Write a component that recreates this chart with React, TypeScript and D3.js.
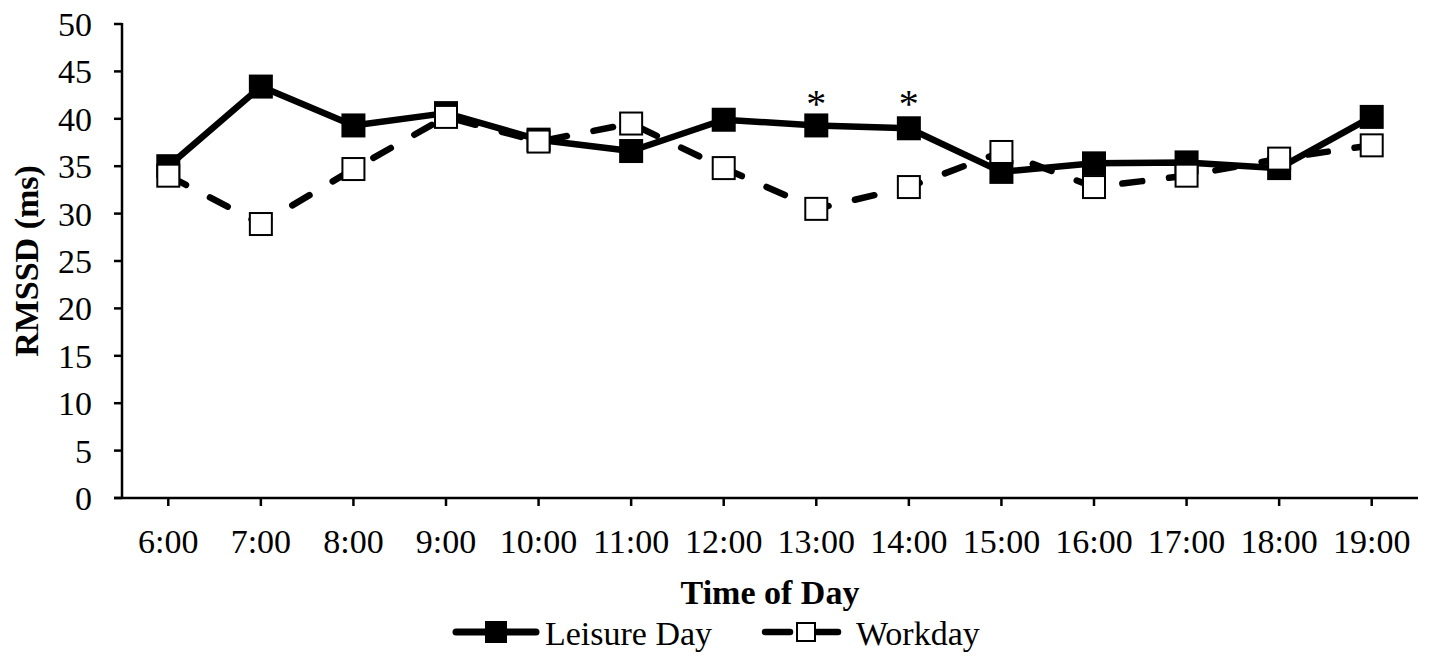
import React from "react";
import * as d3 from "d3";

const categories = ["6:00","7:00","8:00","9:00","10:00","11:00","12:00","13:00","14:00","15:00","16:00","17:00","18:00","19:00"];
const leisure = [35.0, 43.4, 39.3, 40.6, 37.8, 36.6, 39.9, 39.3, 39.0, 34.4, 35.3, 35.4, 34.8, 40.2];
const workday = [34.0, 28.9, 34.7, 40.2, 37.6, 39.5, 34.8, 30.5, 32.8, 36.5, 32.8, 34.0, 35.8, 37.2];
const significant = ["13:00", "14:00"];
const yTicks = [0, 5, 10, 15, 20, 25, 30, 35, 40, 45, 50];
const seriesNames = ["Leisure Day", "Workday"];

const W = 1430, H = 658;
const left = 122, right = 1418, top = 24, bottom = 498;
const FONT = "'Liberation Serif', 'Times New Roman', serif";

export default function App() {
  const x = d3.scaleBand<string>().domain(categories).range([left, right]).padding(0);
  const cx = (c: string) => (x(c) as number) + x.bandwidth() / 2;
  const y = d3.scaleLinear().domain([0, 50]).range([bottom, top]);
  const line = d3.line<number>().x((_, i) => cx(categories[i])).y((d) => y(d));
  const ms = 24;
  const lw = 6.5;
  const ly = 632;

  return (
    <svg width={W} height={H} style={{ position: "absolute", left: 0, top: 0, background: "#fff" }} fontFamily={FONT}>
      <rect x={0} y={0} width={W} height={H} fill="#fff" />
      {/* axes */}
      <line x1={left} x2={left} y1={top - 1} y2={bottom + 1} stroke="#000" strokeWidth={2.5} />
      <line x1={left - 8} x2={right} y1={bottom} y2={bottom} stroke="#000" strokeWidth={2.5} />
      {yTicks.map((t) => (
        <g key={"y" + t}>
          <line x1={left - 8} x2={left} y1={y(t)} y2={y(t)} stroke="#000" strokeWidth={2.5} />
          <text x={92} y={y(t)} dy="0.35em" textAnchor="end" fontSize={34}>{t}</text>
        </g>
      ))}
      {categories.map((c) => (
        <g key={"x" + c}>
          <line x1={cx(c)} x2={cx(c)} y1={bottom} y2={bottom + 8} stroke="#000" strokeWidth={2.5} />
          <text x={cx(c)} y={553} textAnchor="middle" fontSize={34}>{c}</text>
        </g>
      ))}
      <text transform={`translate(38, ${(top + bottom) / 2}) rotate(-90)`} textAnchor="middle" fontSize={34} fontWeight="bold">RMSSD (ms)</text>
      <text x={(left + right) / 2} y={604} textAnchor="middle" fontSize={34} fontWeight="bold">Time of Day</text>

      {/* leisure series */}
      <path d={line(leisure) || ""} fill="none" stroke="#000" strokeWidth={lw} strokeLinejoin="round" />
      {leisure.map((v, i) => (
        <rect key={"l" + i} x={cx(categories[i]) - ms / 2} y={y(v) - ms / 2} width={ms} height={ms} fill="#000" />
      ))}
      {/* workday series */}
      <path d={line(workday) || ""} fill="none" stroke="#000" strokeWidth={lw} strokeDasharray="20 27" strokeLinecap="round" />
      {workday.map((v, i) => (
        <rect key={"w" + i} x={cx(categories[i]) - ms / 2 + 1} y={y(v) - ms / 2 + 1} width={ms - 2} height={ms - 2} fill="#fff" stroke="#000" strokeWidth={2} />
      ))}
      {significant.map((c) => (
        <text key={"s" + c} x={cx(c)} y={117} textAnchor="middle" fontSize={40}>*</text>
      ))}

      {/* legend */}
      <line x1={456} x2={536} y1={ly} y2={ly} stroke="#000" strokeWidth={7} strokeLinecap="round" />
      <rect x={485} y={ly - 11} width={22} height={22} fill="#000" />
      <text x={545} y={645} fontSize={34}>{seriesNames[0]}</text>
      <line x1={765} x2={790} y1={ly} y2={ly} stroke="#000" strokeWidth={6.5} strokeLinecap="round" />
      <line x1={817} x2={838} y1={ly} y2={ly} stroke="#000" strokeWidth={6.5} strokeLinecap="round" />
      <rect x={797} y={ly - 9} width={18} height={18} fill="#fff" stroke="#000" strokeWidth={2} />
      <text x={856} y={645} fontSize={34}>{seriesNames[1]}</text>
    </svg>
  );
}
